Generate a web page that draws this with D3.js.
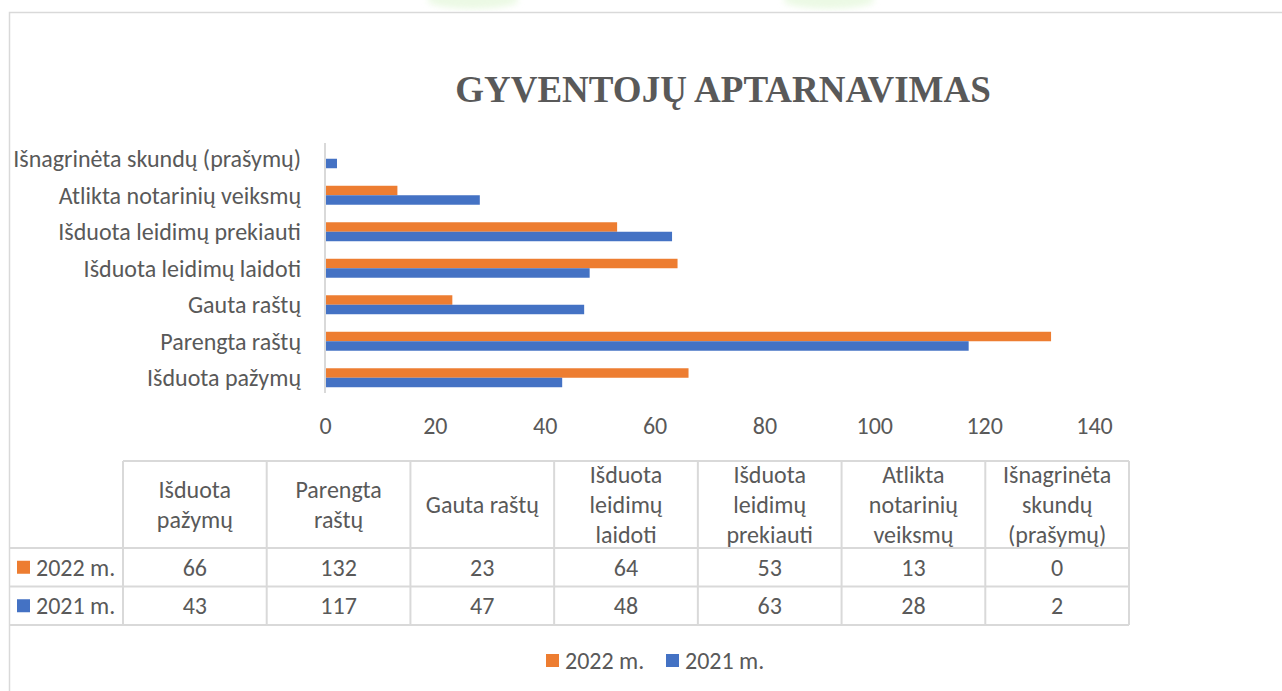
<!DOCTYPE html>
<html>
<head>
<meta charset="utf-8">
<script src="https://cdn.jsdelivr.net/npm/d3@7"></script>
<style>
  body { margin: 0; background: #fff; }
  svg { display: block; }
  text { font-family: Carlito, Calibri, Lato, sans-serif; fill: #595959; }
</style>
</head>
<body>
<svg id="chart1" width="1282" height="691"></svg>
<script>

const categories = ['Išduota pažymų', 'Parengta raštų', 'Gauta raštų', 'Išduota leidimų laidoti',
    'Išduota leidimų prekiauti', 'Atlikta notarinių veiksmų', 'Išnagrinėta skundų (prašymų)'];
const tableHeaders = [['Išduota', 'pažymų'], ['Parengta', 'raštų'], ['Gauta raštų'], ['Išduota', 'leidimų', 'laidoti'],
    ['Išduota', 'leidimų', 'prekiauti'], ['Atlikta', 'notarinių', 'veiksmų'], ['Išnagrinėta', 'skundų', '(prašymų)']];
const seriesNames = ['2022 m.', '2021 m.'];
const values2022 = [66, 132, 23, 64, 53, 13, 0];
const values2021 = [43, 117, 47, 48, 63, 28, 2];
const xTicks = [0, 20, 40, 60, 80, 100, 120, 140];
const colors = ['#ED7D31', '#4472C4'];

const vBarChart = () => {

    const svg = d3.select('#chart1');
    const width = +svg.attr('width');
    const gridColor = '#d9d9d9';
    const fontSize = '24px';

    const series = [values2022, values2021];

    // faint green smudges at the very top of the page
    const defs = svg.append('defs');
    defs.append('filter').attr('id', 'blur')
        .append('feGaussianBlur').attr('stdDeviation', 3);
    [[473, 0, 46], [829, 0, 46]].forEach(([cx, cy, rx]) => {
        svg.append('ellipse')
            .attr('cx', cx).attr('cy', cy).attr('rx', rx).attr('ry', 9)
            .attr('fill', '#e3f7d9').attr('opacity', 0.7)
            .attr('filter', 'url(#blur)');
    });

    // chart border
    svg.append('path')
        .attr('d', `M${width + 2},12.5 H9.5 V700`)
        .attr('fill', 'none').attr('stroke', gridColor).attr('stroke-width', 1.5);

    // title
    svg.append('text')
        .attr('x', 723).attr('y', 102)
        .attr('text-anchor', 'middle')
        .style('font-family', '"Liberation Serif", "Times New Roman", serif')
        .style('font-weight', 'bold')
        .style('font-size', '37px')
        .text('GYVENTOJŲ APTARNAVIMAS');

    const xScale = d3.scaleLinear()
        .domain([0, 140])
        .range([325, 1094]);

    const yScale = d3.scaleBand()
        .domain(categories.slice().reverse())
        .range([140.5, 396])
        .paddingInner(0.48)
        .paddingOuter(0.24);

    const subScale = d3.scaleBand()
        .domain(seriesNames)
        .range([0, yScale.bandwidth()]);

    // bars
    seriesNames.forEach((name, si) => {
        svg.append('g').selectAll('rect')
            .data(categories.map((c, i) => ({cat: c, value: series[si][i]})))
            .enter()
            .append('rect')
            .attr('x', xScale(0) + 1)
            .attr('y', d => yScale(d.cat) + subScale(name))
            .attr('width', d => Math.max(0, xScale(d.value) - xScale(0)))
            .attr('height', subScale.bandwidth())
            .attr('fill', colors[si]);
    });

    // vertical axis line
    svg.append('line')
        .attr('x1', 325).attr('x2', 325)
        .attr('y1', 143).attr('y2', 393)
        .attr('stroke', gridColor).attr('stroke-width', 2);

    // category labels
    const yAxis = d3.axisLeft(yScale).tickSize(0).tickPadding(24);
    const yg = svg.append('g').attr('transform', 'translate(325,0)').call(yAxis);
    yg.select('.domain').remove();
    yg.selectAll('text')
        .style('font-size', fontSize)
        .style('font-family', 'Carlito, Calibri, Lato, sans-serif')
        .attr('fill', '#595959')
        .attr('dy', '0.35em');

    // value ticks
    const xAxis = d3.axisBottom(xScale).tickValues(xTicks).tickSize(0).tickPadding(0);
    const xg = svg.append('g').attr('transform', 'translate(0,426)').call(xAxis);
    xg.select('.domain').remove();
    xg.selectAll('text')
        .style('font-size', fontSize)
        .style('font-family', 'Carlito, Calibri, Lato, sans-serif')
        .attr('fill', '#595959')
        .attr('dy', '0.35em');

    // data table
    const colScale = d3.scaleBand()
        .domain(categories)
        .range([123, 1129]);

    const rowTop = 461, headBottom = 548, rowH = 38.5;
    const table = svg.append('g');
    const lineStyle = sel => sel.attr('stroke', gridColor).attr('stroke-width', 2);

    table.append('line').attr('x1', 123).attr('x2', 1129).attr('y1', rowTop).attr('y2', rowTop).call(lineStyle);
    [0, 1, 2].forEach(r => {
        const y = headBottom + r * rowH;
        table.append('line').attr('x1', 9).attr('x2', 1129).attr('y1', y).attr('y2', y).call(lineStyle);
    });
    colScale.domain().concat(['end']).forEach((c, i) => {
        const x = 123 + i * colScale.step();
        table.append('line').attr('x1', x).attr('x2', x)
            .attr('y1', rowTop).attr('y2', headBottom + 2 * rowH).call(lineStyle);
    });

    // header cells
    categories.forEach((c, i) => {
        const lines = tableHeaders[i];
        const cx = colScale(c) + colScale.bandwidth() / 2;
        const cy = (rowTop + headBottom) / 2;
        lines.forEach((t, li) => {
            table.append('text')
                .attr('x', cx)
                .attr('y', cy + (li - (lines.length - 1) / 2) * 30)
                .attr('dy', '0.35em')
                .attr('text-anchor', 'middle')
                .style('font-size', fontSize)
                .text(t);
        });
    });

    // value rows
    seriesNames.forEach((name, si) => {
        const cy = headBottom + si * rowH + rowH / 2;
        table.append('rect')
            .attr('x', 17).attr('y', cy - 6.5)
            .attr('width', 13).attr('height', 13)
            .attr('fill', colors[si]);
        table.append('text')
            .attr('x', 36).attr('y', cy).attr('dy', '0.35em')
            .style('font-size', fontSize)
            .text(name);
        categories.forEach((c, i) => {
            table.append('text')
                .attr('x', colScale(c) + colScale.bandwidth() / 2)
                .attr('y', cy).attr('dy', '0.35em')
                .attr('text-anchor', 'middle')
                .style('font-size', fontSize)
                .text(series[si][i]);
        });
    });

    // legend
    const legendX = [546, 666];
    seriesNames.forEach((name, si) => {
        const lg = svg.append('g').attr('transform', `translate(${legendX[si]},661)`);
        lg.append('rect').attr('x', 0).attr('y', -7).attr('width', 13).attr('height', 13).attr('fill', colors[si]);
        lg.append('text').attr('x', 19).attr('y', 0).attr('dy', '0.35em')
            .style('font-size', fontSize)
            .text(name);
    });
};

vBarChart();
</script>
</body>
</html>
